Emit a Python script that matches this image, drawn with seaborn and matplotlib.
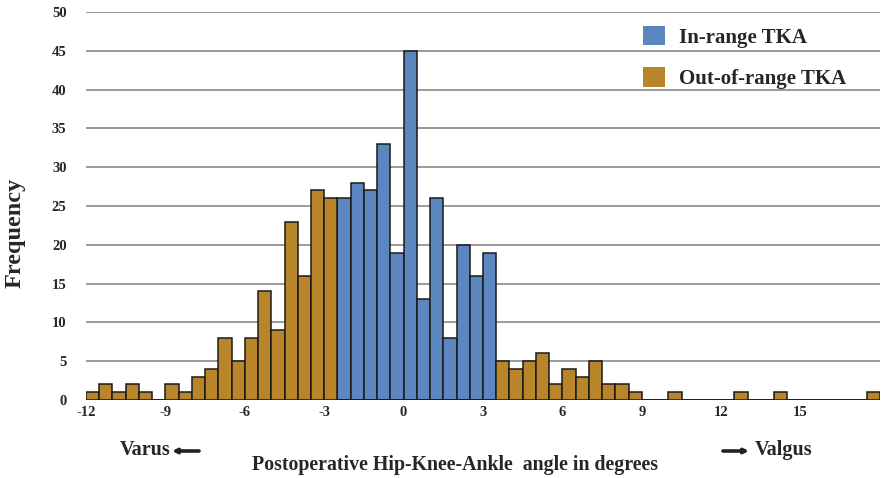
import numpy as np
import pandas as pd
import matplotlib
matplotlib.use("Agg")
import matplotlib.pyplot as plt
import seaborn as sns
from matplotlib.patches import Patch, FancyArrowPatch

# ---- data (0.5-degree bins starting at -12) ----
bin_start = -12.0
bin_width = 0.5
out_left_counts = [1, 2, 1, 2, 1, 0, 2, 1, 3, 4, 8, 5, 8, 14, 9, 23, 16, 27, 26]
in_range_counts = [26, 28, 27, 33, 19, 45, 13, 26, 8, 20, 16, 19]
out_right_counts = [5, 4, 5, 6, 2, 4, 3, 5, 2, 2, 1, 0, 0, 1, 0, 0, 0, 0, 1,
                    0, 0, 1, 0, 0, 0, 0, 0, 0, 1]
groups = ["In-range TKA", "Out-of-range TKA"]
x_ticks = [-12, -9, -6, -3, 0, 3, 6, 9, 12, 15]
y_ticks = [0, 5, 10, 15, 20, 25, 30, 35, 40, 45, 50]

colors = {"In-range TKA": "#5B86C0", "Out-of-range TKA": "#B9852A"}

counts = out_left_counts + in_range_counts + out_right_counts
labels = ([groups[1]] * len(out_left_counts) + [groups[0]] * len(in_range_counts)
          + [groups[1]] * len(out_right_counts))
n = len(counts)
edges = bin_start + bin_width * np.arange(n + 1)
centers = edges[:-1] + bin_width / 2
df = pd.DataFrame({"angle": centers, "count": counts, "group": labels})

sns.set_style("white")
plt.rcParams["font.family"] = ["Liberation Serif", "DejaVu Serif"]

fig = plt.figure(figsize=(8.81, 4.78), dpi=100)
ax = fig.add_axes([86 / 881, 1 - 400 / 478, (880 - 86) / 881, (400 - 12) / 478])

for g in groups:
    sub = df[df["group"] == g]
    sns.histplot(data=sub, x="angle", weights="count", binwidth=bin_width,
                 binrange=(float(edges[0]), float(edges[-1])),
                 color=colors[g], alpha=1, edgecolor="#1a1a1a", linewidth=1.1,
                 ax=ax, legend=False)

ax.set_xlim(edges[0], edges[-1])
ax.set_ylim(0, 50)
ax.set_xticks(x_ticks)
ax.set_yticks(y_ticks)
ax.set_xticklabels([str(t) for t in x_ticks], fontweight="bold", fontsize=10.5)
ax.set_yticklabels([str(t) for t in y_ticks], fontweight="bold", fontsize=10.5)
ax.tick_params(axis="both", length=0)
ax.tick_params(axis="y", pad=14)
ax.tick_params(axis="x", pad=4)
for s in ax.spines.values():
    s.set_visible(False)
ax.yaxis.grid(True, color="#8a8a8a", linewidth=1.2)
ax.xaxis.grid(False)
ax.set_axisbelow(True)
ax.set_xlabel("")
ax.set_ylabel("")

handles = [Patch(facecolor=colors[g], edgecolor="none") for g in groups]
leg = fig.legend(handles, groups, loc="upper left",
                 bbox_to_anchor=(624 / 881, 1 - 7 / 478), frameon=False,
                 prop={"weight": "bold", "size": 15},
                 handlelength=1.05, handleheight=1.05, labelspacing=0.95,
                 handletextpad=0.7)

fig.text(15 / 881, 1 - 233 / 478, "Frequency", rotation=90, ha="center",
         va="center", fontsize=17.5, fontweight="bold")
fig.text(455 / 881, 1 - 465 / 478,
         "Postoperative Hip-Knee-Ankle  angle in degrees",
         ha="center", va="center", fontsize=14.3, fontweight="bold")
fig.text(120 / 881, 1 - 450 / 478, "Varus", ha="left", va="center",
         fontsize=14.5, fontweight="bold")
fig.text(755 / 881, 1 - 450 / 478, "Valgus", ha="left", va="center",
         fontsize=14.5, fontweight="bold")
arrow_kw = dict(arrowstyle="-|>", lw=2.6, color="#222222", mutation_scale=6,
                shrinkA=0, shrinkB=0)
fig.add_artist(FancyArrowPatch((199 / 881, 1 - 451 / 478),
                               (172 / 881, 1 - 451 / 478),
                               transform=fig.transFigure, **arrow_kw))
fig.add_artist(FancyArrowPatch((723 / 881, 1 - 451 / 478),
                               (749 / 881, 1 - 451 / 478),
                               transform=fig.transFigure, **arrow_kw))

fig.savefig("out.png", dpi=100)
